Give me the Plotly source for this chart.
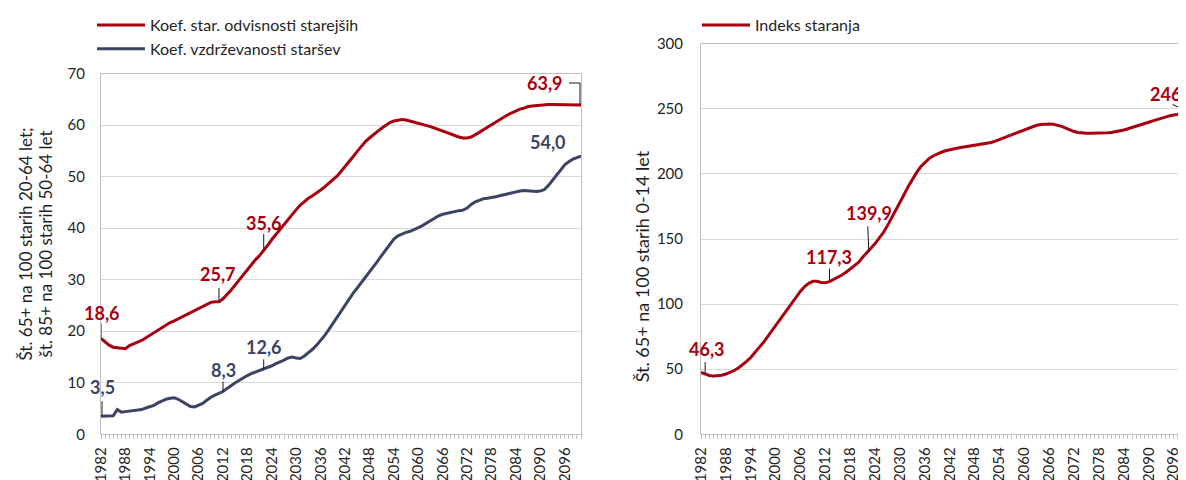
import plotly.graph_objects as go

# ---------------- data ----------------
years = list(range(1982, 2101))

# Koef. star. odvisnosti starejših (65+ per 100 aged 20-64)
starejsi = [
    18.6, 17.9, 17.3, 16.9, 16.8, 16.7, 16.6, 17.2, 17.6, 17.9,   # 1982-1991
    18.2, 18.7, 19.2, 19.7, 20.2, 20.8, 21.3, 21.7, 22.0, 22.4,   # 1992-2001
    22.8, 23.2, 23.6, 24.0, 24.4, 24.9, 25.3, 25.6, 25.7, 25.7,   # 2002-2011
    26.3, 27.1, 28.0, 29.0, 30.0, 31.0, 32.0, 33.0, 33.9, 34.7,   # 2012-2021
    35.6, 36.7, 37.8, 38.8, 39.8, 40.8, 41.8, 42.7, 43.6, 44.5,   # 2022-2031
    45.2, 45.8, 46.3, 46.8, 47.4, 48.0, 48.7, 49.4, 50.1, 51.0,   # 2032-2041
    51.9, 52.9, 53.9, 54.9, 55.9, 56.8, 57.5, 58.2, 58.8, 59.4,   # 2042-2051
    60.0, 60.5, 60.8, 61.0, 61.1, 61.0, 60.8, 60.6, 60.4, 60.2,   # 2052-2061
    60.0, 59.7, 59.4, 59.1, 58.9, 58.6, 58.3, 58.0, 57.7, 57.5,   # 2062-2071
    57.5, 57.7, 58.1, 58.6, 59.1, 59.6, 60.1, 60.6, 61.1, 61.5,   # 2072-2081
    62.0, 62.4, 62.8, 63.1, 63.3, 63.6, 63.7, 63.8, 63.9, 64.0,   # 2082-2091
    64.0, 64.0, 64.0, 64.0, 63.9, 63.9, 63.9, 63.9, 63.9,         # 2092-2100
]

# Koef. vzdrževanosti staršev (85+ per 100 aged 50-64)
starsi = [
    3.5, 3.5, 3.5, 3.6, 4.8, 4.3, 4.4, 4.5, 4.5, 4.6,             # 1982-1991
    4.8, 5.1, 5.3, 5.6, 6.1, 6.5, 6.8, 7.0, 7.1, 6.8,             # 1992-2001
    6.3, 5.8, 5.4, 5.3, 5.6, 6.0, 6.6, 7.2, 7.6, 7.9,             # 2002-2011
    8.3, 8.9, 9.5, 10.0, 10.5, 11.0, 11.4, 11.8, 12.1, 12.3,      # 2012-2021
    12.6, 12.9, 13.3, 13.7, 14.0, 14.4, 14.8, 15.0, 14.8, 14.7,   # 2022-2031
    15.2, 15.8, 16.5, 17.3, 18.2, 19.2, 20.3, 21.5, 22.8, 24.0,   # 2032-2041
    25.2, 26.3, 27.4, 28.4, 29.4, 30.5, 31.6, 32.6, 33.6, 34.7,   # 2042-2051
    35.8, 36.9, 37.9, 38.5, 38.9, 39.2, 39.4, 39.7, 40.1, 40.5,   # 2052-2061
    41.0, 41.5, 42.0, 42.4, 42.7, 42.9, 43.1, 43.2, 43.4, 43.5,   # 2062-2071
    43.9, 44.6, 45.1, 45.4, 45.7, 45.8, 45.9, 46.1, 46.3, 46.5,   # 2072-2081
    46.7, 46.8, 47.0, 47.2, 47.3, 47.2, 47.1, 47.1, 47.2, 47.5,   # 2082-2091
    48.3, 49.3, 50.4, 51.4, 52.3, 52.9, 53.4, 53.7, 54.0,         # 2092-2100
]

# Indeks staranja (65+ per 100 aged 0-14)
indeks = [
    47.5, 46.3, 45.2, 44.7, 44.8, 45.4, 46.3, 47.5, 49.0, 51.0,   # 1982-1991
    53.3, 56.0, 59.0, 62.5, 66.3, 70.3, 74.6, 79.0, 83.4, 87.8,   # 1992-2001
    92.3, 96.8, 101.5, 106.0, 110.0, 113.4, 116.0, 117.5, 117.6, 116.6,  # 2002-2011
    116.5, 117.3, 118.8, 120.5, 122.4, 124.5, 126.8, 129.3, 132.0, 136.0,  # 2012-2021
    139.9, 143.0, 146.5, 150.5, 155.0, 160.3, 166.0, 172.0, 178.0, 184.2,  # 2022-2031
    190.3, 196.0, 201.0, 205.5, 209.0, 211.8, 213.8, 215.4, 216.7, 217.8,  # 2032-2041
    218.7, 219.4, 220.0, 220.5, 221.0, 221.5, 222.0, 222.5, 223.0, 223.5,  # 2042-2051
    224.2, 225.2, 226.4, 227.7, 229.1, 230.4, 231.7, 233.0, 234.2, 235.4,  # 2052-2061
    236.5, 237.4, 238.0, 238.3, 238.4, 238.2, 237.6, 236.6, 235.2, 233.8,  # 2062-2071
    232.6, 231.8, 231.4, 231.2, 231.2, 231.2, 231.3, 231.4, 231.6, 231.9,  # 2072-2081
    232.4, 233.0, 233.8, 234.7, 235.6, 236.6, 237.6, 238.6, 239.7, 240.8,  # 2082-2091
    241.9, 242.9, 243.8, 244.6, 245.3, 245.9, 246.3, 246.6, 246.8,         # 2092-2100
]

name_starejsi = "Koef. star. odvisnosti starejših"
name_starsi = "Koef. vzdrževanosti staršev"
name_indeks = "Indeks staranja"

ytitle_left_1 = "Št. 65+ na 100 starih 20-64 let;"
ytitle_left_2 = "št. 85+ na 100 starih 50-64 let"
ytitle_right = "Št. 65+ na 100 starih 0-14 let"

# ---------------- style ----------------
PAGE_W, PAGE_H = 1186, 480
BODY = 8                      # default page margin of the html body
W, H = PAGE_W - BODY, PAGE_H - BODY
RED = "#A8000F"
NAVY = "#3B4563"
GRID = "#D9D9D9"
AXIS = "#BFBFBF"
TXT = "#1F1F1F"
FONT = "Lato"

# plot areas in page pixels
L_X0, L_X1, L_Y0, L_Y1 = 101, 581, 71, 434
R_X0, R_X1, R_Y0, R_Y1 = 701, 1186, 41, 434
R_PX_PER_YEAR = 4.145
right_end = years[0] + (R_X1 - R_X0) / R_PX_PER_YEAR


def px(x):
    return (x - BODY) / W


def py(y):
    return 1 - (y - BODY) / H


def xdom(a, b):
    return [px(a), min(1.0, px(b))]


def ydom(top, bottom):
    return [py(bottom), py(top)]


fig = go.Figure()
fig.add_trace(go.Scatter(x=years, y=starejsi, name=name_starejsi, mode="lines",
                         line=dict(color=RED, width=3), xaxis="x", yaxis="y",
                         legend="legend", hoverinfo="skip"))
fig.add_trace(go.Scatter(x=years, y=starsi, name=name_starsi, mode="lines",
                         line=dict(color=NAVY, width=3), xaxis="x", yaxis="y",
                         legend="legend", hoverinfo="skip"))
fig.add_trace(go.Scatter(x=years, y=indeks, name=name_indeks, mode="lines",
                         line=dict(color=RED, width=3), xaxis="x2", yaxis="y2",
                         legend="legend2", hoverinfo="skip"))

xaxis_common = dict(
    tick0=1982, dtick=6, tickangle=-90,
    ticks="outside", ticklen=4, tickcolor=AXIS, tickwidth=1,
    minor=dict(ticks="outside", ticklen=4, dtick=1, tickcolor=AXIS, tickwidth=1),
    showgrid=False, zeroline=False,
    showline=True, linecolor=AXIS, linewidth=1, mirror=True,
    tickfont=dict(family=FONT, size=15, color=TXT),
    ticklabelstandoff=2, automargin=False, fixedrange=True,
)
yaxis_common = dict(
    showgrid=True, gridcolor=GRID, gridwidth=1, zeroline=False,
    showline=True, linecolor=AXIS, linewidth=1, mirror=True,
    ticks="", tickfont=dict(family=FONT, size=15, color=TXT),
    automargin=False, fixedrange=True,
)

fig.update_layout(
    width=W, height=H,
    margin=dict(l=0, r=0, t=0, b=0),
    paper_bgcolor="white", plot_bgcolor="white",
    font=dict(family=FONT, color=TXT),
    xaxis=dict(domain=xdom(L_X0, L_X1), range=[1982, 2100], anchor="y", **xaxis_common),
    yaxis=dict(domain=ydom(L_Y0, L_Y1), range=[0, 70], dtick=10, anchor="x",
               ticklabelstandoff=12, **yaxis_common),
    xaxis2=dict(domain=xdom(R_X0, R_X1), range=[1982, right_end], anchor="y2", **xaxis_common),
    yaxis2=dict(domain=ydom(R_Y0, R_Y1), range=[0, 300], dtick=50, anchor="x2",
                ticklabelstandoff=14, **yaxis_common),
    legend=dict(x=px(92), y=py(5), xanchor="left", yanchor="top",
                font=dict(family=FONT, size=16, color=TXT), bgcolor="rgba(0,0,0,0)",
                tracegroupgap=0, itemwidth=48),
    legend2=dict(x=px(697), y=py(5), xanchor="left", yanchor="top",
                 font=dict(family=FONT, size=16, color=TXT), bgcolor="rgba(0,0,0,0)",
                 itemwidth=48),
    showlegend=True,
)

# axis titles
for txt, xpos, ypos, size in [(ytitle_left_1, 26, 243, 17),
                              (ytitle_left_2, 46, 243, 17),
                              (ytitle_right, 642, 265, 18)]:
    fig.add_annotation(text=txt, xref="paper", yref="paper", x=px(xpos), y=py(ypos),
                       xanchor="center", yanchor="middle", textangle=-90, showarrow=False,
                       font=dict(family=FONT, size=size, color=TXT))


# ---------------- data labels ----------------
def fmt(v):
    return f"{v:.1f}".replace(".", ",")


# (x-axis, y-axis, series, year, color, label shift (px), leader segments (px offsets))
labels = [
    ("x", "y", starejsi, 1982, RED, (1, 25), [((0, 0), (0, 15))]),
    ("x", "y", starejsi, 2011, RED, (-1, 28), [((0, 0), (0, 14))]),
    ("x", "y", starejsi, 2022, RED, (0, 28), [((0, 0), (0, 17))]),
    ("x", "y", starejsi, 2100, RED, (-36, 22), [((-1, 0), (-1, 22)), ((-1, 22), (-12, 22))]),
    ("x", "y", starsi, 1982, NAVY, (1, 29), [((1, 0), (1, 15))]),
    ("x", "y", starsi, 2012, NAVY, (0, 22), [((0, 0), (0, 10))]),
    ("x", "y", starsi, 2022, NAVY, (0, 22), [((0, 0), (0, 10))]),
    ("x", "y", starsi, 2100, NAVY, (-33, 14), []),
    ("x2", "y2", indeks, 1983, RED, (2, 25), [((0, 0), (0, 12))]),
    ("x2", "y2", indeks, 2013, RED, (0, 25), [((0, 0), (0, 13))]),
    ("x2", "y2", indeks, 2022, RED, (2, 39), [((2, 0), (1, 26))]),
    ("x2", "y2", indeks, 2100, RED, (-17, 19), [((-2, 1.5), (-17.5, 8.5))]),
]

for xr, yr, series, yr_val, col, (dx, dy), segs in labels:
    v = series[years.index(yr_val)]
    ax_x = yr_val
    shift_x = dx
    if xr == "x2" and yr_val > right_end:
        # annotations anchored outside the visible range are hidden; anchor inside
        ax_x = years[-3]
        shift_x = dx + (yr_val - ax_x) * R_PX_PER_YEAR
    fig.add_annotation(text=fmt(v), xref=xr, yref=yr, x=ax_x, y=v,
                       xshift=shift_x, yshift=dy, showarrow=False,
                       xanchor="center", yanchor="middle",
                       font=dict(family=FONT, size=18, color=col, weight="bold"))
    for (a0, b0), (a1, b1) in segs:
        fig.add_shape(type="line", xref=xr, yref=yr,
                      xsizemode="pixel", ysizemode="pixel",
                      xanchor=yr_val, yanchor=v,
                      x0=a0, y0=b0, x1=a1, y1=b1,
                      line=dict(color="#1A1A1A", width=1))

fig.write_html("out.html")
